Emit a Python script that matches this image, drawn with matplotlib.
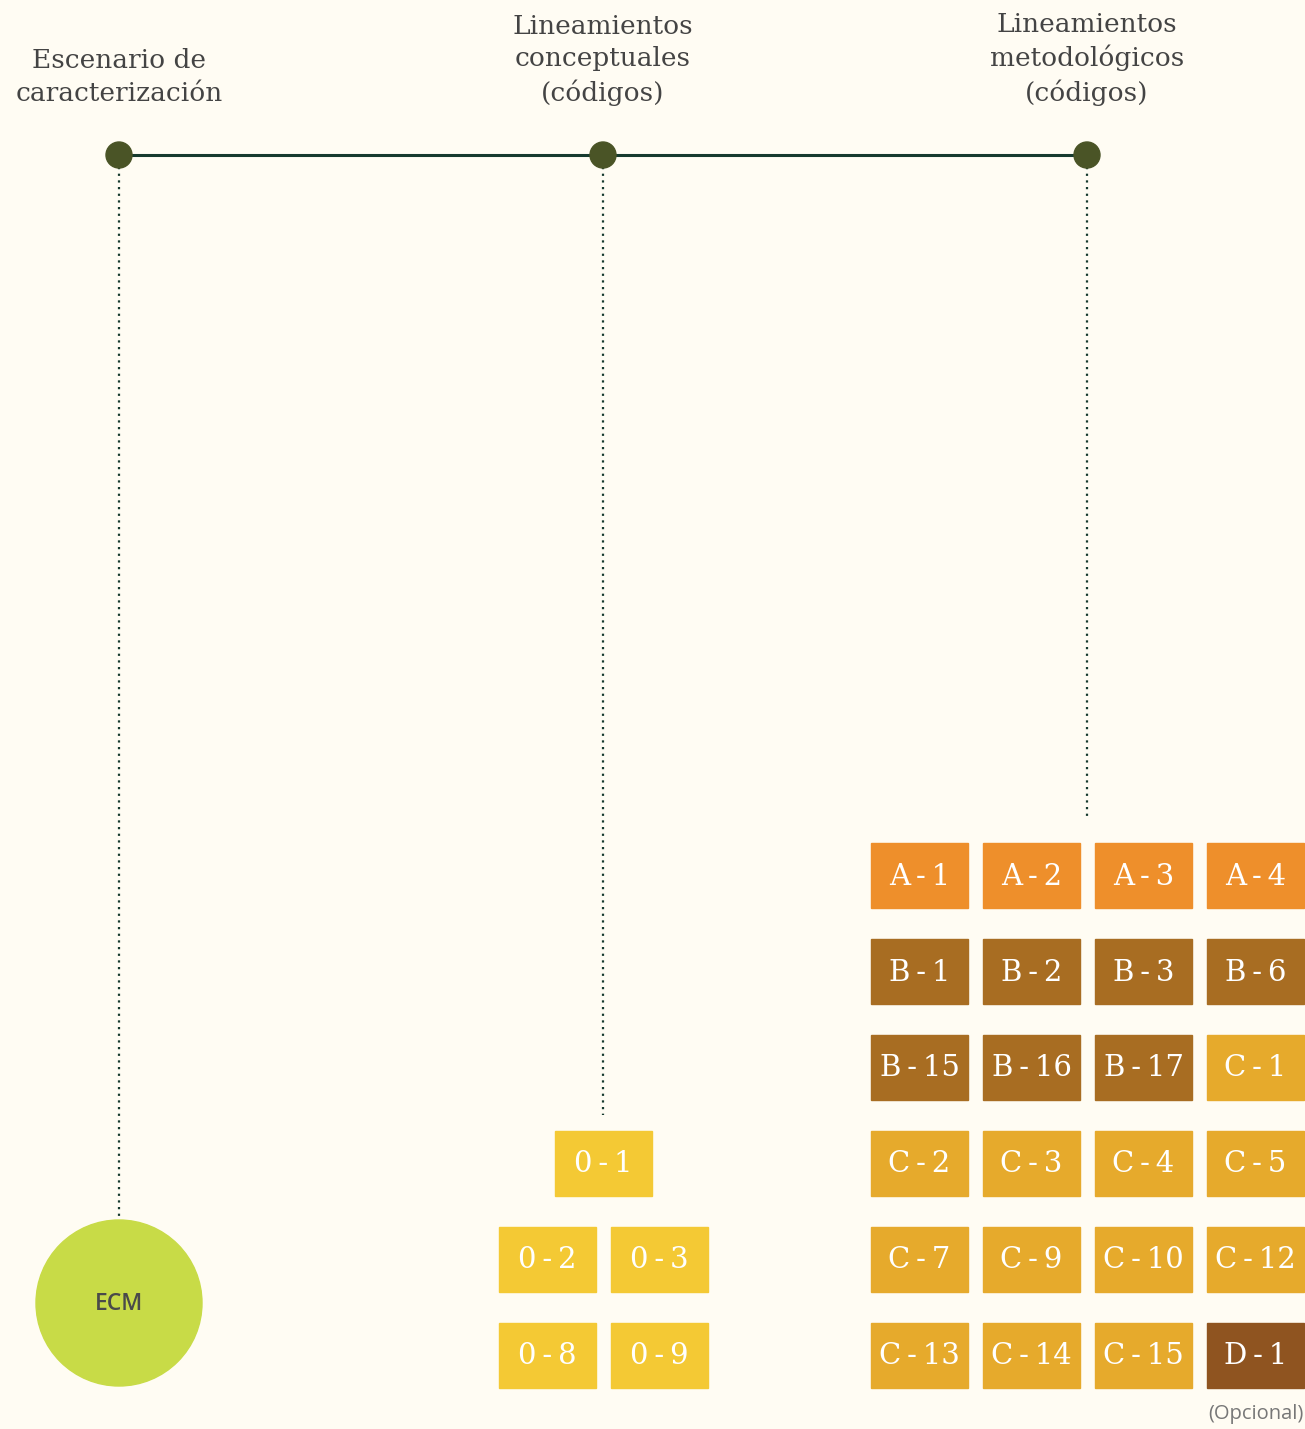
import matplotlib.pyplot as plt
from matplotlib.patches import Rectangle, Circle

# column headers of the timeline
headers = ['Escenario de\ncaracterización',
           'Lineamientos\nconceptuales\n(códigos)',
           'Lineamientos\nmetodológicos\n(códigos)']

# conceptual codes (rows of the middle block)
concept_rows = [['0 - 1'], ['0 - 2', '0 - 3'], ['0 - 8', '0 - 9']]

# methodological codes (4 per row) and their group letter
method_rows = [['A - 1', 'A - 2', 'A - 3', 'A - 4'],
               ['B - 1', 'B - 2', 'B - 3', 'B - 6'],
               ['B - 15', 'B - 16', 'B - 17', 'C - 1'],
               ['C - 2', 'C - 3', 'C - 4', 'C - 5'],
               ['C - 7', 'C - 9', 'C - 10', 'C - 12'],
               ['C - 13', 'C - 14', 'C - 15', 'D - 1']]

group_colors = {'A': '#EE8F2B', 'B': '#A86D22', 'C': '#E6AA2C',
                'D': '#8F5420', '0': '#F4C934'}

bg = '#FFFCF3'
W, H = 1305, 1429
fig = plt.figure(figsize=(W / 100, H / 100), dpi=100, facecolor=bg)
ax = fig.add_axes([0, 0, 1, 1])
ax.set_xlim(0, W)
ax.set_ylim(H, 0)
ax.axis('off')
ax.set_facecolor(bg)

serif = 'DejaVu Serif'
xs = [119, 603, 1087]
line_y = 155
dot_ends = [1218, 1115, 820]

# main line + nodes
ax.plot([xs[0], xs[-1]], [line_y, line_y], color='#163a2e', lw=2.2, zorder=2)
for x, yend in zip(xs, dot_ends):
    ax.plot([x, x], [line_y + 12, yend], color='#163a2e', lw=1.6,
            linestyle=(0, (1, 2)), zorder=1)
    ax.add_patch(Circle((x, line_y), 13, color='#4A5426', zorder=3))

# headers, bottom aligned
for x, h in zip(xs, headers):
    ax.text(x, 106, h, ha='center', va='bottom', fontsize=19, family=serif,
            color='#444444', linespacing=1.38)

# ECM circle
ax.add_patch(Circle((119, 1303), 83, color='#C8DB47', zorder=3))
ax.text(119, 1304, 'ECM', ha='center', va='center', fontsize=16.5,
        family='Open Sans', fontweight='semibold', color='#4a4a4a', zorder=4)

bw, bh = 97, 65
row_y = [843, 939, 1035, 1131, 1227, 1323]


def box(x, y, label):
    c = group_colors[label[0]]
    ax.add_patch(Rectangle((x, y), bw, bh, color=c, zorder=3))
    ax.text(x + bw / 2, y + bh / 2 + 1, label.replace(' ', '\u2009'),
            ha='center', va='center', fontsize=21, family=serif,
            color='white', zorder=4)


# conceptual block
concept_x = [[555], [499, 611], [499, 611]]
for r, (labels, cx) in enumerate(zip(concept_rows, concept_x)):
    for x, lab in zip(cx, labels):
        box(x, row_y[3 + r], lab)

# methodological grid
col_x = [871, 983, 1095, 1207]
for r, labels in enumerate(method_rows):
    for x, lab in zip(col_x, labels):
        box(x, row_y[r], lab)

ax.text(1304, 1414, '(Opcional)', ha='right', va='center', fontsize=14.5,
        family='Open Sans', color='#777777')

fig.savefig('out.png', dpi=100, facecolor=bg)
